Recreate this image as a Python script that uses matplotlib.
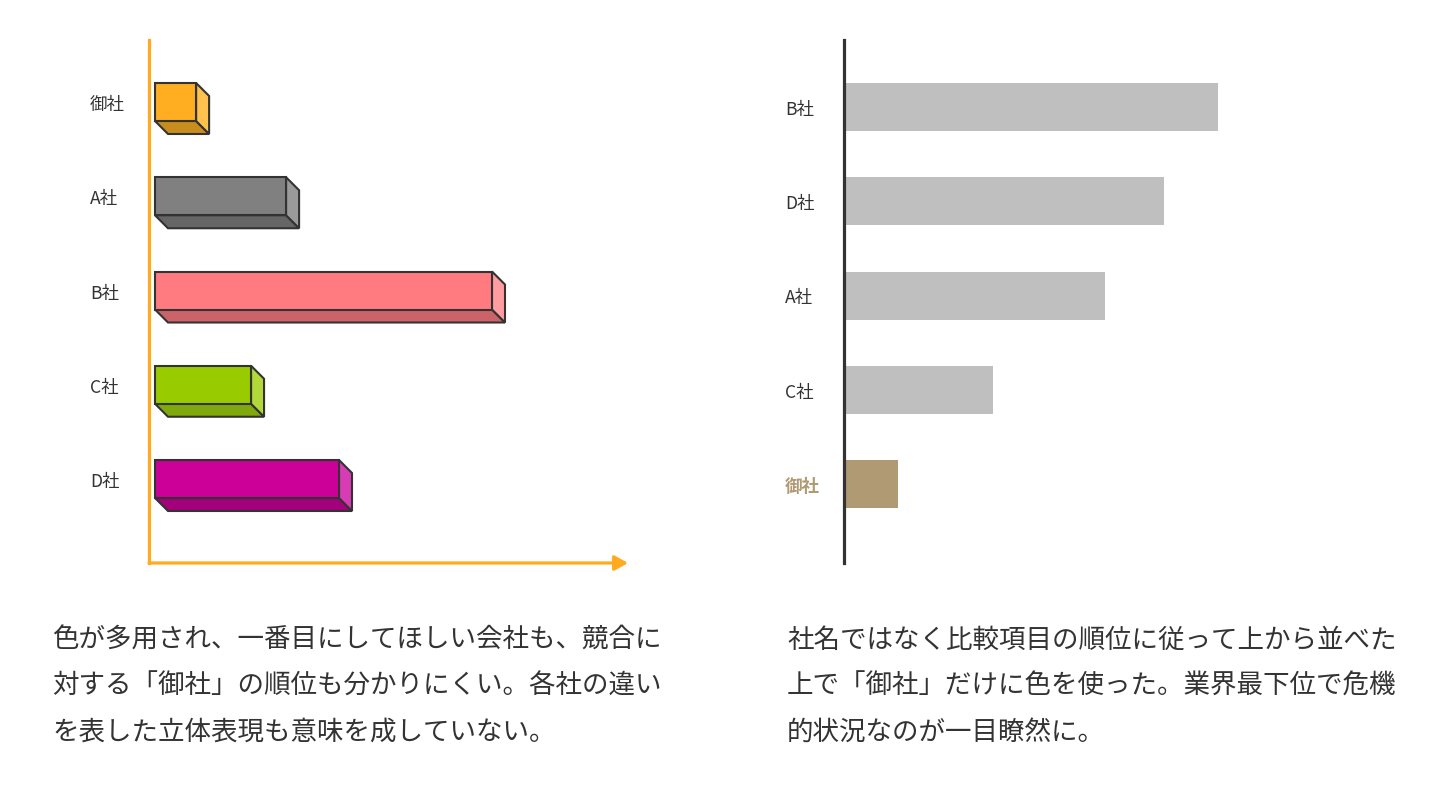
import numpy as np
import matplotlib
matplotlib.use("Agg")
import matplotlib.pyplot as plt
from matplotlib.patches import Polygon
from matplotlib import transforms

plt.rcParams['font.family'] = ['Noto Sans CJK JP', 'DejaVu Sans']

# left: the "bad" 3D chart
left_names = ["御社", "A社", "B社", "C社", "D社"]
left_values = [12.2, 38.9, 100, 28.5, 54.6]
left_front = ["#FFAE21", "#808080", "#FF7B80", "#99CC00", "#CC0099"]
left_side = ["#FFC24F", "#9A9A9A", "#FF9DA1", "#B2D83A", "#D83CB4"]
left_bottom = ["#C98D1E", "#666666", "#CC6368", "#7FA90C", "#A3007C"]

# right: sorted, single highlight
right_names = ["B社", "D社", "A社", "C社", "御社"]
right_values = [100, 85.5, 69.6, 39.5, 14.0]
right_colors = ["#BFBFBF", "#BFBFBF", "#BFBFBF", "#BFBFBF", "#B09A74"]

left_text = ["色が多用され、一番目にしてほしい会社も、競合に",
             "対する「御社」の順位も分かりにくい。各社の違い",
             "を表した立体表現も意味を成していない。"]
right_text = ["社名ではなく比較項目の順位に従って上から並べた",
              "上で「御社」だけに色を使った。業界最下位で危機",
              "的状況なのが一目瞭然に。"]

W, H = 1440, 790
fig = plt.figure(figsize=(W / 100, H / 100), dpi=100)


def px_axes(x0, x1, y0, y1):
    return fig.add_axes([x0 / W, 1 - y1 / H, (x1 - x0) / W, (y1 - y0) / H])


orange = "#FFAA1F"
dark = "#333333"
# CJK glyphs sit a little high with va="center", nudge them down
nudge = transforms.ScaledTranslation(0, -3 / 100, fig.dpi_scale_trans)

# ---- left panel
ax = px_axes(149, 628, 40, 563)
sx = 3.37   # px per unit
step = 94.25
ax.set_xlim(-6 / sx, (628 - 155) / sx)
ax.set_ylim((563 - 102) / step, (40 - 102) / step)
for s in ["top", "right", "bottom"]:
    ax.spines[s].set_visible(False)
ax.spines["left"].set_color(orange)
ax.spines["left"].set_linewidth(2.3)
ax.set_xticks([])
ax.set_yticks([])
ax.patch.set_alpha(0)
ax.annotate("", xy=(1, 0), xytext=(0, 0), xycoords="axes fraction",
            arrowprops=dict(arrowstyle="-|>,head_length=0.8,head_width=0.45",
                            color=orange, lw=2.3, shrinkA=0, shrinkB=0))

bh = 38 / step
dx = 13 / sx
dy = 13 / step
for i, v in enumerate(left_values):
    top, bot = i - bh / 2, i + bh / 2
    kw = dict(edgecolor=dark, lw=1.5, joinstyle="miter")
    ax.add_patch(Polygon([(0, bot), (v, bot), (v + dx, bot + dy), (dx, bot + dy)],
                         facecolor=left_bottom[i], **kw))
    ax.add_patch(Polygon([(v, top), (v + dx, top + dy), (v + dx, bot + dy), (v, bot)],
                         facecolor=left_side[i], **kw))
    ax.add_patch(Polygon([(0, top), (v, top), (v, bot), (0, bot)],
                         facecolor=left_front[i], **kw))

tr = transforms.blended_transform_factory(fig.transFigure, ax.transData) + nudge
for i, name in enumerate(left_names):
    fig.text(90 / W, i, name, transform=tr, ha="left", va="center",
             fontsize=12.6, color=dark)

# ---- right panel
ax2 = px_axes(844, 1400, 40, 563)
sx2 = 3.72
ax2.set_xlim(-2 / sx2, (1400 - 846) / sx2)
ax2.set_ylim((563 - 107) / step, (40 - 107) / step)
for s in ["top", "right", "bottom"]:
    ax2.spines[s].set_visible(False)
ax2.spines["left"].set_color(dark)
ax2.spines["left"].set_linewidth(2.3)
ax2.set_xticks([])
ax2.set_yticks([])
ax2.patch.set_alpha(0)
ax2.barh(np.arange(len(right_values)), right_values, height=48 / step,
         left=0, color=right_colors)

tr2 = transforms.blended_transform_factory(fig.transFigure, ax2.transData) + nudge
for i, name in enumerate(right_names):
    hl = name == "御社"
    fig.text(785 / W, i, name, transform=tr2, ha="left", va="center",
             fontsize=12.6, color="#B09A74" if hl else dark,
             fontweight="bold" if hl else "normal")

# ---- captions
for j, line in enumerate(left_text):
    fig.text(52 / W, 1 - (640 + 46 * j) / H, line, ha="left", va="center",
             fontsize=19.1, color=dark)
for j, line in enumerate(right_text):
    fig.text(787 / W, 1 - (640 + 46 * j) / H, line, ha="left", va="center",
             fontsize=19.1, color=dark)

fig.savefig("out.png", dpi=100, facecolor="white")
